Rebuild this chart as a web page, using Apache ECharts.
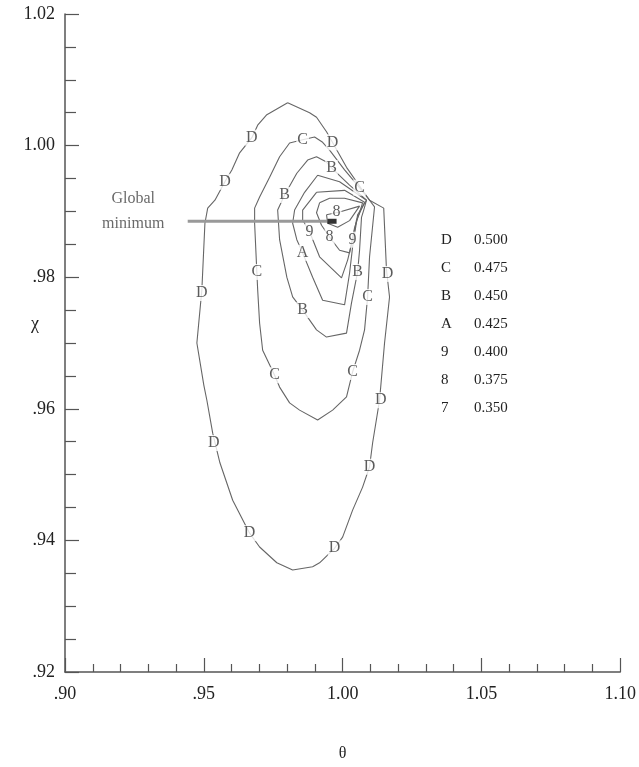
<!DOCTYPE html>
<html><head><meta charset="utf-8">
<script src="https://cdn.jsdelivr.net/npm/echarts@6/dist/echarts.min.js"></script>
<style>html,body{margin:0;padding:0;background:#fff}#c{width:639px;height:767px}</style>
</head><body><div id="c"></div>
<script>
// Contour polylines [theta, chi]
const contourD = [[0.9802,1.0065],[0.9881,1.0050],[0.9906,1.0043],[0.9942,1.0021],[1.0014,0.9967],[1.0097,0.9917],[1.0148,0.9905],[1.0158,0.9811],[1.0169,0.9770],[1.0151,0.9700],[1.0133,0.9613],[1.0108,0.9548],[1.0097,0.9512],[1.0072,0.9481],[1.0036,0.9446],[1.0000,0.9405],[0.9971,0.9388],[0.9917,0.9366],[0.9892,0.9360],[0.9820,0.9355],[0.9763,0.9366],[0.9701,0.9390],[0.9665,0.9411],[0.9604,0.9461],[0.9558,0.9518],[0.9532,0.9563],[0.9511,0.9613],[0.9500,0.9636],[0.9475,0.9700],[0.9493,0.9781],[0.9504,0.9882],[0.9514,0.9905],[0.9540,0.9917],[0.9576,0.9945],[0.9601,0.9963],[0.9629,0.9989],[0.9673,1.0012],[0.9694,1.0031],[0.9727,1.0047]];
const contourC = [[0.9856,1.0009],[0.9899,1.0013],[0.9928,1.0005],[0.9953,0.9993],[1.0007,0.9963],[1.0061,0.9936],[1.0097,0.9917],[1.0115,0.9907],[1.0097,0.9831],[1.0090,0.9770],[1.0079,0.9720],[1.0061,0.9689],[1.0036,0.9656],[1.0014,0.9618],[0.9964,0.9598],[0.9910,0.9583],[0.9845,0.9598],[0.9809,0.9609],[0.9773,0.9633],[0.9755,0.9651],[0.9712,0.9689],[0.9701,0.9730],[0.9694,0.9781],[0.9691,0.9808],[0.9683,0.9882],[0.9683,0.9905],[0.9701,0.9922],[0.9737,0.9952],[0.9773,0.9983],[0.9809,1.0004]];
const contourB = [[0.9960,0.9966],[1.0025,0.9940],[1.0086,0.9917],[1.0076,0.9902],[1.0068,0.9891],[1.0061,0.9841],[1.0054,0.9808],[1.0032,0.9761],[1.0014,0.9715],[0.9942,0.9709],[0.9906,0.9720],[0.9856,0.9750],[0.9820,0.9770],[0.9799,0.9800],[0.9773,0.9857],[0.9766,0.9902],[0.9791,0.9925],[0.9835,0.9958],[0.9874,0.9978],[0.9906,0.9983],[0.9942,0.9975]];
const contourA = [[0.9910,0.9955],[0.9989,0.9945],[1.0086,0.9917],[1.0054,0.9895],[1.0036,0.9846],[1.0025,0.9806],[1.0007,0.9758],[0.9928,0.9765],[0.9892,0.9800],[0.9856,0.9837],[0.9835,0.9857],[0.9820,0.9882],[0.9827,0.9902],[0.9863,0.9929]];
const contour9 = [[0.9906,0.9929],[1.0007,0.9932],[1.0079,0.9914],[1.0050,0.9887],[1.0036,0.9857],[1.0018,0.9826],[0.9996,0.9799],[0.9917,0.9831],[0.9881,0.9869],[0.9856,0.9887],[0.9856,0.9902]];
const contour8 = [[0.9917,0.9913],[0.9953,0.9920],[1.0007,0.9920],[1.0072,0.9913],[1.0043,0.9875],[1.0025,0.9837],[0.9989,0.9841],[0.9953,0.9861],[0.9924,0.9879],[0.9906,0.9898]];
const contour7 = [[0.9942,0.9895],[0.9989,0.9899],[1.0061,0.9908],[1.0025,0.9886],[0.9982,0.9876],[0.9946,0.9882]];

// Contour label positions
const labelsD = [[0.9673,1.0012],[0.9576,0.9945],[0.9493,0.9776],[0.9536,0.9548],[0.9665,0.9411],[0.9971,0.9388],[1.0097,0.9512],[1.0137,0.9613],[1.0162,0.9805],[0.9964,1.0005]];
const labelsC = [[0.9856,1.0009],[1.0061,0.9936],[1.0090,0.9770],[1.0036,0.9656],[0.9755,0.9651],[0.9691,0.9808]];
const labelsB = [[0.9960,0.9966],[0.9791,0.9925],[0.9856,0.9750],[1.0054,0.9808]];
const labelsA = [[0.9856,0.9837]];
const labels9 = [[0.9881,0.9869],[1.0036,0.9857]];
const labels8 = [[0.9953,0.9861],[0.9978,0.9899]];

const levelNames = ['D','C','B','A','9','8','7'];
const levelValues = ['0.500','0.475','0.450','0.425','0.400','0.375','0.350'];

const globalMin = [0.9962, 0.9885];
const globalLineStart = 0.9442;

const xTicks = ['.90','.95','1.00','1.05','1.10'];
const yTicks = ['.92','.94','.96','.98','1.00','1.02'];

const FONT = 'Liberation Serif';
const TXT = '#222';
const LINE = '#666';

const contours = [contourD, contourC, contourB, contourA, contour9, contour8, contour7];
const labelSets = [labelsD, labelsC, labelsB, labelsA, labels9, labels8, []];

const series = [];
contours.forEach(function(c){
  series.push({type:'line', data:c.concat([c[0]]), showSymbol:false, symbol:'none', silent:true,
    lineStyle:{color:LINE, width:1.1}, z:2});
});
labelSets.forEach(function(ls, i){
  if (!ls.length) return;
  series.push({type:'scatter', data:ls, symbolSize:1, itemStyle:{color:'rgba(0,0,0,0)'}, z:5,
    label:{show:true, position:'inside', formatter:levelNames[i], fontFamily:FONT, fontSize:16,
      color:'#333', backgroundColor:'#fff', padding:[0,1,0,1]}});
});
// Global minimum pointer line and marker
series.push({type:'line', data:[[globalLineStart, globalMin[1]],[globalMin[0]-0.0016, globalMin[1]]], symbol:'none',
  lineStyle:{color:'#999', width:3}, z:6});
series.push({type:'scatter', data:[globalMin], symbol:'rect', symbolSize:[9,5], itemStyle:{color:'#000'}, z:7});
series.push({type:'scatter', data:[[globalLineStart, globalMin[1]]], symbolSize:1, itemStyle:{color:'rgba(0,0,0,0)'}, z:7,
  label:{show:true, position:'left', distance:10, formatter:'Global\nminimum', align:'center', lineHeight:25,
    fontFamily:FONT, fontSize:16, color:'#444', offset:[-44,-10]}});

const graphics = [];
levelNames.forEach(function(n, i){
  graphics.push({type:'text', left:441, top:233 + i*28, style:{text:n, font:'15px "Liberation Serif"', fill:TXT}});
  graphics.push({type:'text', left:474, top:233 + i*28, style:{text:levelValues[i], font:'15px "Liberation Serif"', fill:TXT}});
});

const chart = echarts.init(document.getElementById('c'));
chart.setOption({
  backgroundColor:'#fff',
  animation:false,
  grid:{left:65, right:18, top:14, bottom:95, containLabel:false},
  xAxis:{type:'value', min:0.9, max:1.1, interval:0.05, name:'θ', nameLocation:'middle', nameGap:74,
    nameTextStyle:{fontFamily:FONT, fontSize:16, color:TXT},
    axisLine:{lineStyle:{color:'#555', width:1.5}},
    axisTick:{inside:true, length:14, lineStyle:{color:'#555', width:1.2}},
    minorTick:{show:true, splitNumber:5, length:8, lineStyle:{color:'#555', width:1.2}},
    splitLine:{show:false},
    axisLabel:{fontFamily:FONT, fontSize:18, color:TXT, margin:13,
      formatter:function(v){ var i = Math.round((v-0.9)/0.05); return xTicks[i]; }}},
  yAxis:{type:'value', min:0.92, max:1.02, interval:0.02, name:'χ', nameLocation:'middle', nameGap:26, nameRotate:0,
    nameMoveOverlap:false,
    nameTextStyle:{fontFamily:FONT, fontSize:18, color:TXT, verticalAlign:'bottom', padding:[0,0,10,0]},
    axisLine:{lineStyle:{color:'#555', width:1.5}},
    axisTick:{inside:true, length:14, lineStyle:{color:'#555', width:1.2}},
    minorTick:{show:true, splitNumber:4, length:11, lineStyle:{color:'#555', width:1.2}},
    splitLine:{show:false},
    axisLabel:{fontFamily:FONT, fontSize:18, color:TXT, margin:10,
      formatter:function(v){ var i = Math.round((v-0.92)/0.02); return yTicks[i]; }}},
  series:series,
  graphic:graphics
});
</script></body></html>
